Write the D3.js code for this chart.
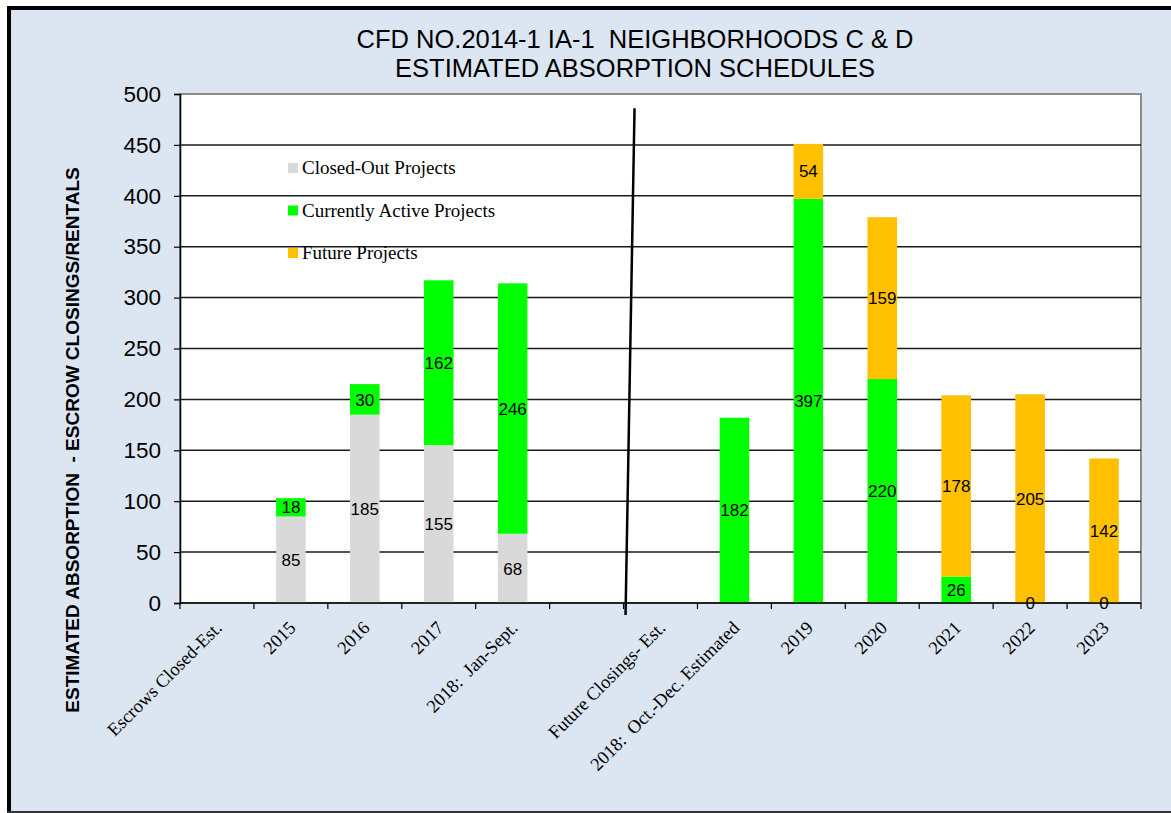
<!DOCTYPE html>
<html>
<head>
<meta charset="utf-8">
<script src="https://cdn.jsdelivr.net/npm/d3@7"></script>
<style>
  html, body { margin: 0; padding: 0; background: #ffffff; }
  svg { display: block; }
  text { white-space: pre; }
</style>
</head>
<body>
<svg id="chart" width="1171" height="813"></svg>
<script>
// Category slots along the x axis (one empty spacer slot between the two groups)
const categories = [
  "Escrows Closed-Est.", "2015", "2016", "2017", "2018:  Jan-Sept.", "",
  "Future Closings- Est.", "2018:  Oct.-Dec. Estimated",
  "2019", "2020", "2021", "2022", "2023"
];
// Stacked series (null = no segment / no label)
const closedOut = [null, 85, 185, 155, 68, null, null, null, null, null, null, null, null];
const active    = [null, 18, 30, 162, 246, null, null, 182, 397, 220, 26, 0, 0];
const future    = [null, null, null, null, null, null, null, null, 54, 159, 178, 205, 142];

const seriesNames = ["Closed-Out Projects", "Currently Active Projects", "Future Projects"];
const seriesColors = ["#D9D9D9", "#00FF00", "#FFC000"];
const yTicks = [0, 50, 100, 150, 200, 250, 300, 350, 400, 450, 500];

const titleLines = ["CFD NO.2014-1 IA-1  NEIGHBORHOODS C & D", "ESTIMATED ABSORPTION SCHEDULES"];
const yTitle = "ESTIMATED ABSORPTION  - ESCROW CLOSINGS/RENTALS";

const W = 1171, H = 813;
const plot = { left: 180, right: 1141, top: 94, bottom: 603 };

const svg = d3.select("#chart");

// Outer frame and background
svg.append("rect").attr("x", 9).attr("y", 8).attr("width", W).attr("height", H - 10)
  .attr("fill", "#DCE6F2");
svg.append("line").attr("x1", 9).attr("x2", 9).attr("y1", 6).attr("y2", 813)
  .attr("stroke", "#000").attr("stroke-width", 4);
svg.append("line").attr("x1", 7).attr("x2", W).attr("y1", 8).attr("y2", 8)
  .attr("stroke", "#000").attr("stroke-width", 4);
svg.append("line").attr("x1", 7).attr("x2", W).attr("y1", 812).attr("y2", 812)
  .attr("stroke", "#333").attr("stroke-width", 2);

// Scales
const x = d3.scaleBand()
  .domain(d3.range(categories.length))
  .range([plot.left, plot.right])
  .padding(0);
const y = d3.scaleLinear().domain([0, 500]).range([plot.bottom, plot.top]);
const barW = x.bandwidth() * 0.4;

// Plot area
svg.append("rect")
  .attr("x", plot.left).attr("y", plot.top)
  .attr("width", plot.right - plot.left).attr("height", plot.bottom - plot.top)
  .attr("fill", "#ffffff").attr("stroke", "#8c8c8c").attr("stroke-width", 2);

// Horizontal gridlines
svg.append("g").selectAll("line")
  .data(yTicks.filter(v => v > 0 && v < 500))
  .join("line")
  .attr("x1", plot.left).attr("x2", plot.right)
  .attr("y1", d => y(d)).attr("y2", d => y(d))
  .attr("stroke", "#1a1a1a").attr("stroke-width", 1.5);

// Stacked bars
const stackRows = categories.map((c, i) => ({
  i,
  segs: [closedOut[i], active[i], future[i]]
}));
const segments = [];
stackRows.forEach(r => {
  let base = 0;
  r.segs.forEach((v, k) => {
    if (v === null) return;
    segments.push({ i: r.i, k, v, y0: base, y1: base + v });
    base += v;
  });
});

const barG = svg.append("g");
barG.selectAll("rect")
  .data(segments)
  .join("rect")
  .attr("x", d => x(d.i) + (x.bandwidth() - barW) / 2)
  .attr("width", barW)
  .attr("y", d => y(d.y1))
  .attr("height", d => y(d.y0) - y(d.y1))
  .attr("fill", d => seriesColors[d.k]);

// Value labels centred in each segment
barG.selectAll("text")
  .data(segments)
  .join("text")
  .attr("x", d => x(d.i) + x.bandwidth() / 2)
  .attr("y", d => y((d.y0 + d.y1) / 2))
  .attr("dy", "0.36em")
  .attr("text-anchor", "middle")
  .attr("font-family", "Liberation Sans, Arial, sans-serif")
  .attr("font-size", 17)
  .attr("fill", "#000")
  .text(d => d.v);

// Y axis
const yAxis = d3.axisLeft(y).tickValues(yTicks).tickSize(6).tickPadding(13);
const yg = svg.append("g").attr("transform", `translate(${plot.left},0)`).call(yAxis);
yg.select(".domain").attr("stroke", "#000").attr("stroke-width", 1.5);
yg.selectAll(".tick line").attr("stroke", "#000").attr("stroke-width", 1.2);
yg.selectAll(".tick text")
  .attr("font-family", "Liberation Sans, Arial, sans-serif")
  .attr("font-size", 22.5).attr("fill", "#000");

// X axis: ticks between categories
const bounds = d3.range(categories.length + 1).map(i => plot.left + i * x.step());
const xg = svg.append("g");
xg.append("line").attr("x1", plot.left).attr("x2", plot.right)
  .attr("y1", plot.bottom).attr("y2", plot.bottom)
  .attr("stroke", "#000").attr("stroke-width", 1.5);
xg.selectAll("line.tick")
  .data(bounds)
  .join("line").attr("class", "tick")
  .attr("x1", d => d).attr("x2", d => d)
  .attr("y1", plot.bottom).attr("y2", plot.bottom + 6)
  .attr("stroke", "#000").attr("stroke-width", 1.2);
xg.selectAll("text")
  .data(categories.map((c, i) => ({ c, i })).filter(d => d.c !== ""))
  .join("text")
  .attr("transform", d => `translate(${x(d.i) + x.bandwidth() / 2 + 6},${plot.bottom + 26}) rotate(-45)`)
  .attr("text-anchor", "end")
  .attr("font-family", "Liberation Serif, Times New Roman, serif")
  .attr("font-size", 18.5)
  .attr("fill", "#000")
  .text(d => d.c);

// Divider between recorded and projected closings
const divX = bounds[6];
svg.append("line")
  .attr("x1", divX + 11).attr("y1", y(486))
  .attr("x2", divX + 2).attr("y2", plot.bottom + 12)
  .attr("stroke", "#000").attr("stroke-width", 2.5);

// Legend
const legend = svg.append("g");
seriesNames.forEach((name, k) => {
  const ly = 163 + k * 42.5;
  legend.append("rect").attr("x", 288).attr("y", ly).attr("width", 10).attr("height", 10)
    .attr("fill", seriesColors[k]);
  legend.append("text").attr("x", 302).attr("y", ly + 11)
    .attr("font-family", "Liberation Serif, Times New Roman, serif")
    .attr("font-size", 19).attr("fill", "#000")
    .text(name);
});

// Title
svg.append("g").selectAll("text")
  .data(titleLines)
  .join("text")
  .attr("x", 635)
  .attr("y", (d, i) => 48 + i * 29)
  .attr("text-anchor", "middle")
  .attr("font-family", "Liberation Sans, Arial, sans-serif")
  .attr("font-size", 25.5)
  .attr("fill", "#000")
  .text(d => d);

// Y axis title
svg.append("text")
  .attr("transform", `translate(79,440) rotate(-90)`)
  .attr("text-anchor", "middle")
  .attr("font-family", "Liberation Sans, Arial, sans-serif")
  .attr("font-weight", "bold")
  .attr("font-size", 19)
  .attr("fill", "#000")
  .text(yTitle);
</script>
</body>
</html>
